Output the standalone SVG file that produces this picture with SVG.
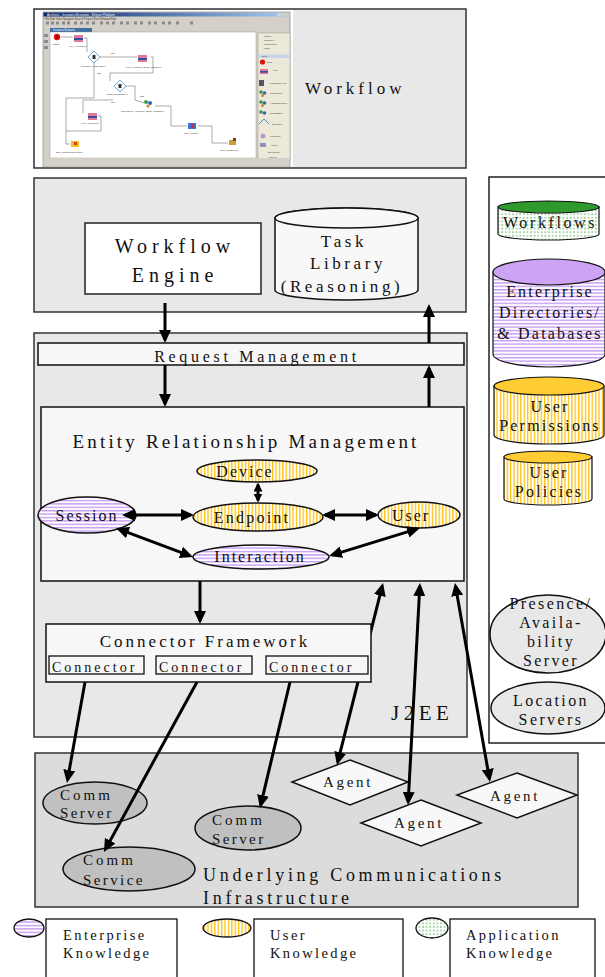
<svg xmlns="http://www.w3.org/2000/svg" width="605" height="977" viewBox="0 0 605 977">
<defs>
<style>
.t{font-family:"Liberation Serif","Times New Roman",serif;fill:#111}
.m{text-anchor:middle}
.box{stroke:#222;stroke-width:1.5}
.cont{fill:#e8e8e8;stroke:#333;stroke-width:1.5}
.lt{fill:#f7f7f7;stroke:#111;stroke-width:1.5}
.ell{stroke:#111;stroke-width:1.5}
.con{stroke:#000;stroke-width:3;fill:none}
.cs{font-family:"Liberation Sans",Arial,sans-serif;fill:#333}
.fl{stroke:#555;stroke-width:0.5;fill:none}
</style>
<pattern id="pEnt" width="4" height="3.4" patternUnits="userSpaceOnUse"><rect width="4" height="3.4" fill="#fff"/><rect width="4" height="1.4" fill="#c79cf2"/></pattern>
<pattern id="pUsr" width="3.4" height="4" patternUnits="userSpaceOnUse"><rect width="3.4" height="4" fill="#fff"/><rect width="1.3" height="4" fill="#ffc20e"/></pattern>
<pattern id="pApp" width="3.6" height="3.6" patternUnits="userSpaceOnUse"><rect width="3.6" height="3.6" fill="#fff"/><circle cx="1.8" cy="1.8" r="0.75" fill="#2e9a2e"/></pattern>
<linearGradient id="gTitle" x1="0" x2="1" y1="0" y2="0"><stop offset="0" stop-color="#0a246a"/><stop offset="1" stop-color="#a6caf0"/></linearGradient>
<marker id="ah" markerUnits="userSpaceOnUse" markerWidth="13" markerHeight="12" refX="10" refY="6" orient="auto-start-reverse"><path d="M0,0 L13,6 L0,12 z" fill="#000"/></marker>
<marker id="as" markerUnits="userSpaceOnUse" markerWidth="9" markerHeight="9" refX="7" refY="4.5" orient="auto-start-reverse"><path d="M0,0 L9,4.5 L0,9 z" fill="#000"/></marker>
</defs>
<rect width="605" height="977" fill="#fff"/>

<!-- Workflow (top) -->
<g id="workflow">
<rect class="cont" x="34" y="9" width="432" height="159"/>
<rect x="35" y="10" width="258" height="157" fill="#fff"/>
<g id="screenshot">
<rect x="43" y="12" width="247" height="155" fill="#d4d0c8" stroke="#777" stroke-width="0.6"/>
<rect x="43.5" y="12.5" width="246" height="4" fill="url(#gTitle)"/>
<text class="cs" x="47" y="15.8" font-size="3.2" fill="#fff" style="fill:#fff">Architect - InsuranceScenario - Eclipse Platform</text>
<rect x="277" y="13" width="3.5" height="3" fill="#d4d0c8"/><rect x="281" y="13" width="3.5" height="3" fill="#d4d0c8"/><rect x="285" y="13" width="3.5" height="3" fill="#d4d0c8"/>
<text class="cs" x="45" y="19.8" font-size="2.8">File   Edit   View   Navigate   Search   Project   Run   Window   Help</text>
<g fill="#8a8a8a">
<rect x="46" y="21.5" width="3" height="3"/><rect x="51" y="21.5" width="3" height="3"/><rect x="56" y="21.5" width="3" height="3"/><rect x="62" y="21.5" width="3" height="3"/><rect x="67" y="21.5" width="3" height="3"/><rect x="74" y="21.5" width="3" height="3"/><rect x="80" y="21.5" width="3" height="3"/><rect x="86" y="21.5" width="3" height="3"/><rect x="92" y="21.5" width="3" height="3"/><rect x="100" y="21.5" width="3" height="3"/><rect x="106" y="21.5" width="3" height="3"/><rect x="112" y="21.5" width="3" height="3"/><rect x="120" y="21.5" width="3" height="3"/><rect x="126" y="21.5" width="3" height="3"/><rect x="134" y="21.5" width="3" height="3"/><rect x="140" y="21.5" width="3" height="3"/><rect x="148" y="21.5" width="3" height="3"/><rect x="154" y="21.5" width="3" height="3"/><rect x="162" y="21.5" width="3" height="3"/><rect x="168" y="21.5" width="3" height="3"/><rect x="176" y="21.5" width="3" height="3"/><rect x="190" y="21.5" width="3" height="3"/>
<rect x="44" y="34" width="4" height="3"/><rect x="44" y="40" width="4" height="3"/><rect x="44" y="46" width="4" height="3"/>
</g>
<rect x="50" y="28" width="42" height="4" fill="#3a6ea5"/>
<text class="cs" x="53" y="31" font-size="2.6" style="fill:#fff">InsuranceScenario</text>
<rect x="50" y="32" width="206" height="126" fill="#fff" stroke="#888" stroke-width="0.4"/>
<rect x="258" y="33" width="32" height="127" fill="#ece9d8" stroke="#888" stroke-width="0.4"/>
<rect x="258.5" y="54.5" width="31" height="3.5" fill="#c8d4ec"/>
<g class="cs" font-size="2.5">
<text x="264" y="36.5">Select</text><text x="264" y="40.5">Marquee</text><text x="264" y="44.5">Connection</text><text x="264" y="48.5">Label</text><text x="262" y="57.3">Core</text>
<text x="267" y="63">Start</text><text x="272" y="71">Alert</text><text x="270" y="84">InSessionAlert</text><text x="270" y="94">SetupConf</text><text x="270" y="104">AddConference</text><text x="270" y="114">ConfStatus</text><text x="272" y="125">Decision</text><text x="270" y="137">Presence</text><text x="270" y="146">Activity</text><text x="268" y="152.5">Document</text><text x="268" y="157.5">Analyze</text>
</g>
<circle cx="262.5" cy="62" r="2.6" fill="#e01010"/>
<rect x="260" y="69" width="8" height="5" fill="#e07898"/><rect x="260" y="71" width="8" height="1.6" fill="#3050a0"/>
<rect x="259" y="80" width="5" height="6" fill="#556"/>
<circle cx="261" cy="92" r="1.8" fill="#3a9a3a"/><circle cx="264.5" cy="93" r="1.8" fill="#3060c0"/><circle cx="262.5" cy="95.5" r="1.5" fill="#e08030"/>
<circle cx="261" cy="102" r="1.8" fill="#3a9a3a"/><circle cx="264.5" cy="103" r="1.8" fill="#3060c0"/><circle cx="262.5" cy="105.5" r="1.5" fill="#e08030"/>
<circle cx="261" cy="112" r="1.8" fill="#3a9a3a"/><circle cx="264.5" cy="113" r="1.8" fill="#3060c0"/>
<path d="M259,124 L264,119 L269,124" fill="none" stroke="#4a90d0" stroke-width="1"/>
<circle cx="263" cy="136" r="2.5" fill="#b89ac8"/>
<rect x="260" y="143" width="6" height="4" fill="#9090c0"/>
<!-- flow lines -->
<g class="fl">
<path d="M61,37 H73"/>
<path d="M84,38 H87 V52"/>
<path d="M100,57 H137"/>
<path d="M151,57 H153 V73 H110 V81"/>
<path d="M94,62 V98 H66 V144 H70"/>
<path d="M113,100 H83 V113"/>
<path d="M126,86 H135 V100 L144,103"/>
<path d="M155,106 H171 V126 H187"/>
<path d="M198,126 H212 V143 H228"/>
<path d="M98,116 H101 V131 H66"/>
</g>
<circle cx="57" cy="37" r="3.2" fill="#e01010"/><circle cx="57" cy="37" r="1.5" fill="#900"/>
<g id="alert1"><rect x="74" y="35" width="9" height="7" fill="#e07898"/><rect x="74" y="38" width="9" height="2" fill="#3050a0"/></g>
<path d="M94,51 L100,57 L94,63 L88,57 z" fill="#fff" stroke="#4a90d0" stroke-width="0.8"/><rect x="92.5" y="55" width="3" height="4" fill="#333"/>
<rect x="138" y="55" width="9" height="7" fill="#e07898"/><rect x="138" y="58" width="9" height="2" fill="#3050a0"/>
<path d="M120,80 L126,86 L120,92 L114,86 z" fill="#fff" stroke="#4a90d0" stroke-width="0.8"/><rect x="118.5" y="84" width="3" height="4" fill="#333"/>
<circle cx="146" cy="102" r="2" fill="#3a9a3a"/><circle cx="150" cy="103" r="2" fill="#3060c0"/><circle cx="148" cy="106" r="1.6" fill="#e08030"/>
<rect x="88" y="113" width="9" height="7" fill="#e07898"/><rect x="88" y="116" width="9" height="2" fill="#3050a0"/>
<rect x="188" y="123" width="8" height="6" fill="#4070d0"/><rect x="191" y="124" width="3" height="4" fill="#d03030"/>
<rect x="71" y="141" width="8" height="6" fill="#f0c020"/><rect x="74" y="142" width="3" height="3" fill="#d04020"/>
<rect x="229" y="140" width="7" height="5" fill="#c8a040"/><rect x="233" y="138" width="3" height="3" fill="#704020"/>
<g class="cs" font-size="2.5">
<text x="53" y="45">Start0</text>
<text x="68" y="47">Alert_Appraiser1</text>
<text x="80" y="67">Appraiser_Responds ?</text>
<text x="111" y="53.5">NO</text>
<text x="96" y="74">YES</text>
<text x="125" y="68">Alert_Appraiser_Boss_Customer</text>
<text x="107" y="95">Boss_Responds ?</text>
<text x="139" y="97">YES</text>
<text x="111" y="103">NO</text>
<text x="121" y="112">SetupConf_Appraiser_Boss_Customer</text>
<text x="80" y="124">Alert_Appraiser2</text>
<text x="184" y="134">User_Input0</text>
<text x="56" y="153">End_InsuranceScenario</text>
<text x="220" y="151">Goto_GetExpert</text>
</g>
<rect x="43.5" y="158" width="246" height="8.5" fill="#d4d0c8"/>
</g>
<text class="t" x="305" y="94" font-size="17" letter-spacing="4">Workflow</text>
</g>

<!-- Workflow engine container -->
<g id="engine-layer">
<rect class="cont" x="34" y="178" width="432" height="134"/>
</g>
<g id="workflow-engine">
<rect x="85" y="223" width="176" height="71" fill="#fff" class="box"/>
<text class="t m" x="175" y="253" font-size="20" letter-spacing="5">Workflow</text>
<text class="t m" x="175" y="282" font-size="20" letter-spacing="5">Engine</text>
</g>
<g id="task-library">
<path d="M275,218 V290 A71.5,10 0 0 0 418,290 V218 A71.5,10 0 0 0 275,218 z" fill="#f8f8f8" stroke="#111" stroke-width="1.5"/>
<ellipse cx="346.5" cy="218" rx="71.5" ry="10" fill="#f8f8f8" stroke="#111" stroke-width="1.5"/>
<text class="t m" x="344" y="247" font-size="17" letter-spacing="3.6">Task</text>
<text class="t m" x="348" y="269" font-size="17" letter-spacing="3.6">Library</text>
<text class="t m" x="342" y="292" font-size="17" letter-spacing="3.6">(Reasoning)</text>
</g>

<!-- J2EE container -->
<g id="j2ee">
<rect class="cont" x="34" y="333" width="433" height="404"/>
<text class="t" x="391" y="720" font-size="21" letter-spacing="4.5">J2EE</text>
</g>
<g id="request-management">
<rect class="lt" x="38" y="343" width="426" height="22"/>
<text class="t m" x="257" y="362" font-size="16" letter-spacing="3.7">Request Management</text>
</g>
<g id="erm">
<rect class="lt" x="41" y="407" width="423" height="174"/>
<text class="t m" x="246" y="448" font-size="19" letter-spacing="3.2">Entity Relationship Management</text>
</g>
<g id="device">
<ellipse class="ell" cx="257" cy="471" rx="60" ry="11" fill="url(#pUsr)"/>
<text class="t m" x="245" y="477" font-size="16" letter-spacing="2">Device</text>
</g>
<g id="endpoint">
<ellipse class="ell" cx="258" cy="517" rx="65" ry="14" fill="url(#pUsr)"/>
<text class="t m" x="252" y="523" font-size="16" letter-spacing="2.2">Endpoint</text>
</g>
<g id="session">
<ellipse class="ell" cx="87" cy="515" rx="49" ry="18" fill="url(#pEnt)"/>
<text class="t m" x="87" y="521" font-size="16" letter-spacing="2">Session</text>
</g>
<g id="user">
<ellipse class="ell" cx="419" cy="515" rx="41" ry="13" fill="url(#pUsr)"/>
<text class="t m" x="411" y="521" font-size="16" letter-spacing="2">User</text>
</g>
<g id="interaction">
<ellipse class="ell" cx="261" cy="557" rx="68" ry="12" fill="url(#pEnt)"/>
<text class="t m" x="260" y="562" font-size="16" letter-spacing="2">Interaction</text>
</g>

<!-- Right panel -->
<g id="repositories">
<rect x="489" y="177" width="120" height="566" fill="#fff" stroke="#222" stroke-width="1.5"/>
</g>
<g id="workflows-db">
<path d="M498,207 V234 A50.5,6 0 0 0 599,234 V207 z" fill="url(#pApp)" stroke="#111" stroke-width="1.2"/>
<ellipse cx="548.5" cy="207" rx="50.5" ry="6" fill="#2e9a2e" stroke="#111" stroke-width="1.2"/>
<text class="t m" x="550" y="228" font-size="16" letter-spacing="2.6">Workflows</text>
</g>
<g id="enterprise-db">
<path d="M493,272 V354 A56,13 0 0 0 605,354 V272 z" fill="url(#pEnt)" stroke="#111" stroke-width="1.2"/>
<ellipse cx="549" cy="272" rx="56" ry="13" fill="#cda4f5" stroke="#111" stroke-width="1.2"/>
<text class="t m" x="550" y="297" font-size="16" letter-spacing="2.2">Enterprise</text>
<text class="t m" x="550" y="318" font-size="16" letter-spacing="2.2">Directories/</text>
<text class="t m" x="550" y="339" font-size="16" letter-spacing="2.2">&amp; Databases</text>
</g>
<g id="permissions-db">
<path d="M494,386 V435 A55,9 0 0 0 604,435 V386 z" fill="url(#pUsr)" stroke="#111" stroke-width="1.2"/>
<ellipse cx="549" cy="386" rx="55" ry="9" fill="#ffcc33" stroke="#111" stroke-width="1.2"/>
<text class="t m" x="550" y="412" font-size="16" letter-spacing="2.2">User</text>
<text class="t m" x="550" y="431" font-size="16" letter-spacing="2.2">Permissions</text>
</g>
<g id="policies-db">
<path d="M504,457 V499 A44,6 0 0 0 592,499 V457 z" fill="url(#pUsr)" stroke="#111" stroke-width="1.2"/>
<ellipse cx="548" cy="457" rx="44" ry="6" fill="#ffcc33" stroke="#111" stroke-width="1.2"/>
<text class="t m" x="549" y="478" font-size="16" letter-spacing="2.2">User</text>
<text class="t m" x="549" y="497" font-size="16" letter-spacing="2.2">Policies</text>
</g>
<g id="presence">
<ellipse class="ell" cx="548" cy="634" rx="58" ry="39" fill="#e8e8e8"/>
<text class="t m" x="551" y="609" font-size="16" letter-spacing="2.4">Presence/</text>
<text class="t m" x="551" y="628" font-size="16" letter-spacing="2.4">Availa-</text>
<text class="t m" x="551" y="647" font-size="16" letter-spacing="2.4">bility</text>
<text class="t m" x="551" y="666" font-size="16" letter-spacing="2.4">Server</text>
</g>
<g id="location">
<ellipse class="ell" cx="548" cy="708" rx="57" ry="26" fill="#e8e8e8"/>
<text class="t m" x="551" y="706" font-size="16" letter-spacing="2.4">Location</text>
<text class="t m" x="551" y="725" font-size="16" letter-spacing="2.4">Servers</text>
</g>

<!-- Underlying infrastructure -->
<g id="infrastructure">
<rect x="35" y="753" width="543" height="154" fill="#dcdcdc" stroke="#333" stroke-width="1.5"/>
<text class="t" x="203" y="881" font-size="18" letter-spacing="3.7">Underlying Communications</text>
<text class="t" x="203" y="904" font-size="18" letter-spacing="3.7">Infrastructure</text>
</g>
<g id="comm-server-1">
<ellipse class="ell" cx="95" cy="803" rx="52" ry="21" fill="#c0c0c0"/>
<text class="t" x="60" y="800" font-size="15" letter-spacing="3">Comm</text>
<text class="t" x="60" y="818" font-size="15" letter-spacing="2.4">Server</text>
</g>
<g id="comm-server-2">
<ellipse class="ell" cx="248" cy="828" rx="53" ry="22" fill="#c0c0c0"/>
<text class="t" x="212" y="825" font-size="15" letter-spacing="3">Comm</text>
<text class="t" x="212" y="844" font-size="15" letter-spacing="2.4">Server</text>
</g>
<g id="comm-service">
<ellipse class="ell" cx="129" cy="869" rx="66" ry="22" fill="#c0c0c0"/>
<text class="t" x="83" y="865" font-size="15" letter-spacing="3">Comm</text>
<text class="t" x="83" y="885" font-size="15" letter-spacing="2.4">Service</text>
</g>
<g id="agent-1">
<path d="M350,760 L408,782 L350,805 L292,782 z" fill="#f8f8f8" stroke="#111" stroke-width="1.5"/>
<text class="t m" x="348" y="787" font-size="15" letter-spacing="2.7">Agent</text>
</g>
<g id="agent-2">
<path d="M421,800 L481,823 L421,846 L361,823 z" fill="#f8f8f8" stroke="#111" stroke-width="1.5"/>
<text class="t m" x="419" y="828" font-size="15" letter-spacing="2.7">Agent</text>
</g>
<g id="agent-3">
<path d="M517,773 L577,795 L517,818 L457,795 z" fill="#f8f8f8" stroke="#111" stroke-width="1.5"/>
<text class="t m" x="515" y="801" font-size="15" letter-spacing="2.7">Agent</text>
</g>

<!-- Connectors -->
<g id="connectors">
<path class="con" d="M165,303 V340" marker-end="url(#ah)"/>
<path class="con" d="M429,343 V307" marker-end="url(#ah)"/>
<path class="con" d="M165,365 V404" marker-end="url(#ah)"/>
<path class="con" d="M429,407 V368" marker-end="url(#ah)"/>
<path class="con" d="M200,581 V621" marker-end="url(#ah)"/>
<path class="con" d="M258,484.5 V500.5" marker-start="url(#as)" marker-end="url(#as)"/>
<path class="con" d="M125,515 H191" marker-start="url(#ah)" marker-end="url(#ah)"/>
<path class="con" d="M325,515 H376" marker-start="url(#ah)" marker-end="url(#ah)"/>
<path class="con" d="M118.8,529.1 L190.2,555.9" marker-start="url(#ah)" marker-end="url(#ah)"/>
<path class="con" d="M417.1,528.9 L331.9,555.1" marker-start="url(#ah)" marker-end="url(#ah)"/>
<path class="con" d="M85,682 L67.5,780" marker-end="url(#ah)"/>
<path class="con" d="M197,682 L105.4,849.4" marker-end="url(#ah)"/>
<path class="con" d="M290,682 L260.7,805.1" marker-end="url(#ah)"/>
<path class="con" d="M382.3,585.9 L337.7,762.1" marker-start="url(#ah)" marker-end="url(#ah)"/>
<path class="con" d="M419.8,586 L408.2,802" marker-start="url(#ah)" marker-end="url(#ah)"/>
<path class="con" d="M455.5,586 L489.5,779" marker-start="url(#ah)" marker-end="url(#ah)"/>
</g>

<g id="connector-framework">
<rect class="lt" x="46" y="624" width="325" height="58"/>
<text class="t m" x="205" y="647" font-size="17" letter-spacing="3">Connector Framework</text>
<rect x="49" y="656" width="95" height="18" fill="#f7f7f7" stroke="#111" stroke-width="1.3"/>
<rect x="156" y="656" width="96" height="18" fill="#f7f7f7" stroke="#111" stroke-width="1.3"/>
<rect x="266" y="656" width="102" height="18" fill="#f7f7f7" stroke="#111" stroke-width="1.3"/>
<text class="t" x="52" y="672" font-size="14" letter-spacing="3">Connector</text>
<text class="t" x="159" y="672" font-size="14" letter-spacing="3">Connector</text>
<text class="t" x="269" y="672" font-size="14" letter-spacing="3">Connector</text>
</g>

<!-- Legend -->
<g id="legend-enterprise">
<ellipse cx="29" cy="928" rx="15" ry="9" fill="url(#pEnt)" stroke="#111" stroke-width="1.3"/>
<rect x="46" y="919" width="131" height="62" fill="#fff" stroke="#111" stroke-width="1.3"/>
<text class="t" x="63" y="940" font-size="14.5" letter-spacing="2.4">Enterprise</text>
<text class="t" x="63" y="958" font-size="14.5" letter-spacing="2.4">Knowledge</text>
</g>
<g id="legend-user">
<ellipse cx="227" cy="928" rx="24" ry="9" fill="url(#pUsr)" stroke="#111" stroke-width="1.3"/>
<rect x="254" y="919" width="149" height="62" fill="#fff" stroke="#111" stroke-width="1.3"/>
<text class="t" x="270" y="940" font-size="14.5" letter-spacing="2.4">User</text>
<text class="t" x="270" y="958" font-size="14.5" letter-spacing="2.4">Knowledge</text>
</g>
<g id="legend-application">
<ellipse cx="432" cy="928" rx="16" ry="10" fill="url(#pApp)" stroke="#111" stroke-width="1.3"/>
<rect x="450" y="919" width="145" height="62" fill="#fff" stroke="#111" stroke-width="1.3"/>
<text class="t" x="466" y="940" font-size="14.5" letter-spacing="2.4">Application</text>
<text class="t" x="466" y="958" font-size="14.5" letter-spacing="2.4">Knowledge</text>
</g>
</svg>
